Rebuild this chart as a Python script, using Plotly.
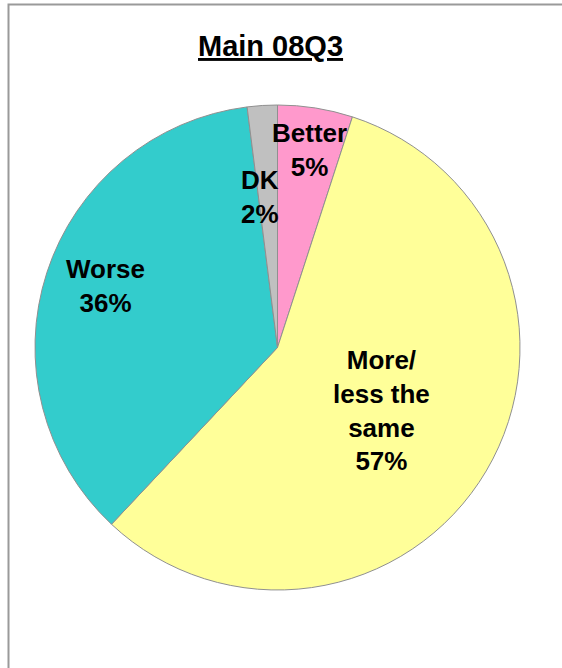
import math
import plotly.graph_objects as go

# Data
categories = ["Better", "More/<br>less the<br>same", "Worse", "DK"]
values = [5, 57, 36, 2]
colors = ["#FF99CC", "#FFFF99", "#33CCCC", "#C0C0C0"]
title_text = "Main 08Q3"

W, H = 562, 668
# pie geometry in pixels
cx, cy, R = 277.5, 347.5, 242.5
dom_x = [(cx - R) / W, (cx + R) / W]
dom_y = [1 - (cy + R) / H, 1 - (cy - R) / H]

fig = go.Figure(go.Pie(
    labels=[c.replace("<br>", " ") for c in categories],
    values=values,
    sort=False,
    direction="clockwise",
    rotation=0,
    marker=dict(colors=colors, line=dict(color="#909090", width=1)),
    textinfo="none",
    hoverinfo="label+percent",
    showlegend=False,
    domain=dict(x=dom_x, y=dom_y),
))

# label placement: radius fraction and angular offset (deg) per slice
label_r = [0.825, 0.502, 0.755, 0.625]
label_da = [0.06, 0.3, 1.6, -3.0]

total = sum(values)
cum = 0
annotations = []
for cat, v, rf, da in zip(categories, values, label_r, label_da):
    mid = (cum + v / 2) / total * 360 + da
    cum += v
    px = cx + rf * R * math.sin(math.radians(mid))
    py = cy - rf * R * math.cos(math.radians(mid))
    pct = round(v / total * 100)
    annotations.append(dict(
        x=px / W, y=1 - py / H, xref="paper", yref="paper",
        text=f"<b>{cat}<br>{pct}%</b>", showarrow=False,
        xanchor="center", yanchor="middle", align="center",
        font=dict(family="Liberation Sans, Arial", size=26, color="#000000"),
    ))

annotations.append(dict(
    x=270.5 / W, y=1 - 46 / H, xref="paper", yref="paper",
    text=f"<u><b>{title_text}</b></u>", showarrow=False,
    xanchor="center", yanchor="middle",
    font=dict(family="Liberation Sans, Arial", size=29, color="#000000"),
))

fig.update_layout(
    width=W, height=H,
    margin=dict(l=0, r=0, t=0, b=0),
    paper_bgcolor="white",
    plot_bgcolor="white",
    annotations=annotations,
    shapes=[dict(type="rect", xref="paper", yref="paper",
                 x0=8.5 / W, x1=1.2, y0=-0.2, y1=1 - 4.5 / H,
                 line=dict(color="#9A9A9A", width=2))],
)

fig.write_html("out.html",
               config={"displayModeBar": False},
               post_script="document.body.style.margin='0';document.body.style.overflow='hidden';")
